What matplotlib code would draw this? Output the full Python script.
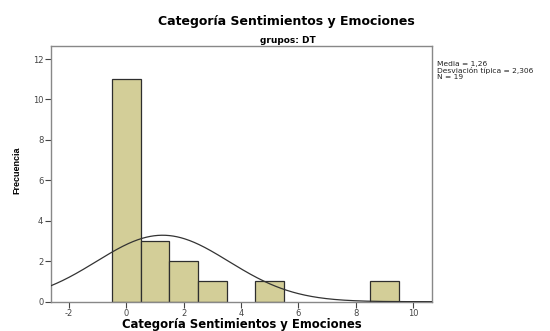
import numpy as np
import matplotlib
matplotlib.use("Agg")
import matplotlib.pyplot as plt

# Histogram data (bin centres, counts)
bin_centers = [0, 1, 2, 3, 5, 9]
counts = [11, 3, 2, 1, 1, 1]
bin_width = 1.0

# Summary statistics shown in the side note
media = 1.26
desviacion = 2.306
n_total = 19

x_ticks = [-2, 0, 2, 4, 6, 8, 10]
y_ticks = [0, 2, 4, 6, 8, 10, 12]

title = "Categoría Sentimientos y Emociones"
subtitle = "grupos: DT"
x_label = "Categoría Sentimientos y Emociones"
y_label = "Frecuencia"

plt.rcParams["font.family"] = ["DejaVu Sans"]

W, H = 550, 331
fig = plt.figure(figsize=(W / 100, H / 100), dpi=100)
left, right, top, bottom = 51, 432, 45.7, 301.7
ax = fig.add_axes([left / W, 1 - bottom / H, (right - left) / W, (bottom - top) / H])

bar_face = "#d3ce98"
ax.bar(bin_centers, counts, width=bin_width, color=bar_face,
       edgecolor="#2e2e2e", linewidth=0.9, zorder=2)

# Normal curve scaled to counts
xmin, xmax = -2.63, 10.66
xs = np.linspace(xmin, xmax, 400)
mean_exact = sum(c * v for c, v in zip(counts, bin_centers)) / n_total
pdf = np.exp(-0.5 * ((xs - mean_exact) / desviacion) ** 2) / (desviacion * np.sqrt(2 * np.pi))
ax.plot(xs, pdf * n_total * bin_width, color="#333333", linewidth=0.9, zorder=3)

ax.set_xlim(xmin, xmax)
ax.set_ylim(0, 12.66)
ax.set_xticks(x_ticks)
ax.set_yticks(y_ticks)
ax.set_xticklabels([str(t) for t in x_ticks])
ax.set_yticklabels([str(t) for t in y_ticks])
ax.tick_params(axis="both", labelsize=6, colors="#444444", length=4, width=0.8,
               pad=1.5, direction="out")

for side in ["left", "right", "top", "bottom"]:
    ax.spines[side].set_color("#888888")
    ax.spines[side].set_linewidth(1.0)

# Axis titles
fig.text(242 / W, 1 - 324.5 / H, x_label, ha="center", va="center",
         fontsize=8.4, fontweight="bold")
fig.text(17 / W, 1 - 170 / H, y_label, ha="center", va="center", rotation=90,
         fontsize=6.5, fontweight="bold", family="Liberation Sans")

# Chart title and subtitle
fig.text(286.5 / W, 1 - 21 / H, title, ha="center", va="center",
         fontsize=9.0, fontweight="bold")
fig.text(287.5 / W, 1 - 40.5 / H, subtitle, ha="center", va="center",
         fontsize=6.5, fontweight="bold")

# Statistics note
stat_lines = [
    "Media = " + f"{media:.2f}".replace(".", ","),
    "Desviación típica = " + f"{desviacion:.3f}".replace(".", ","),
    "N = " + str(n_total),
]
for i, line in enumerate(stat_lines):
    fig.text(437 / W, 1 - (64 + 6.6 * i) / H, line, ha="left", va="center",
             fontsize=5.4, color="#222222")

fig.savefig("out.png", dpi=100)
